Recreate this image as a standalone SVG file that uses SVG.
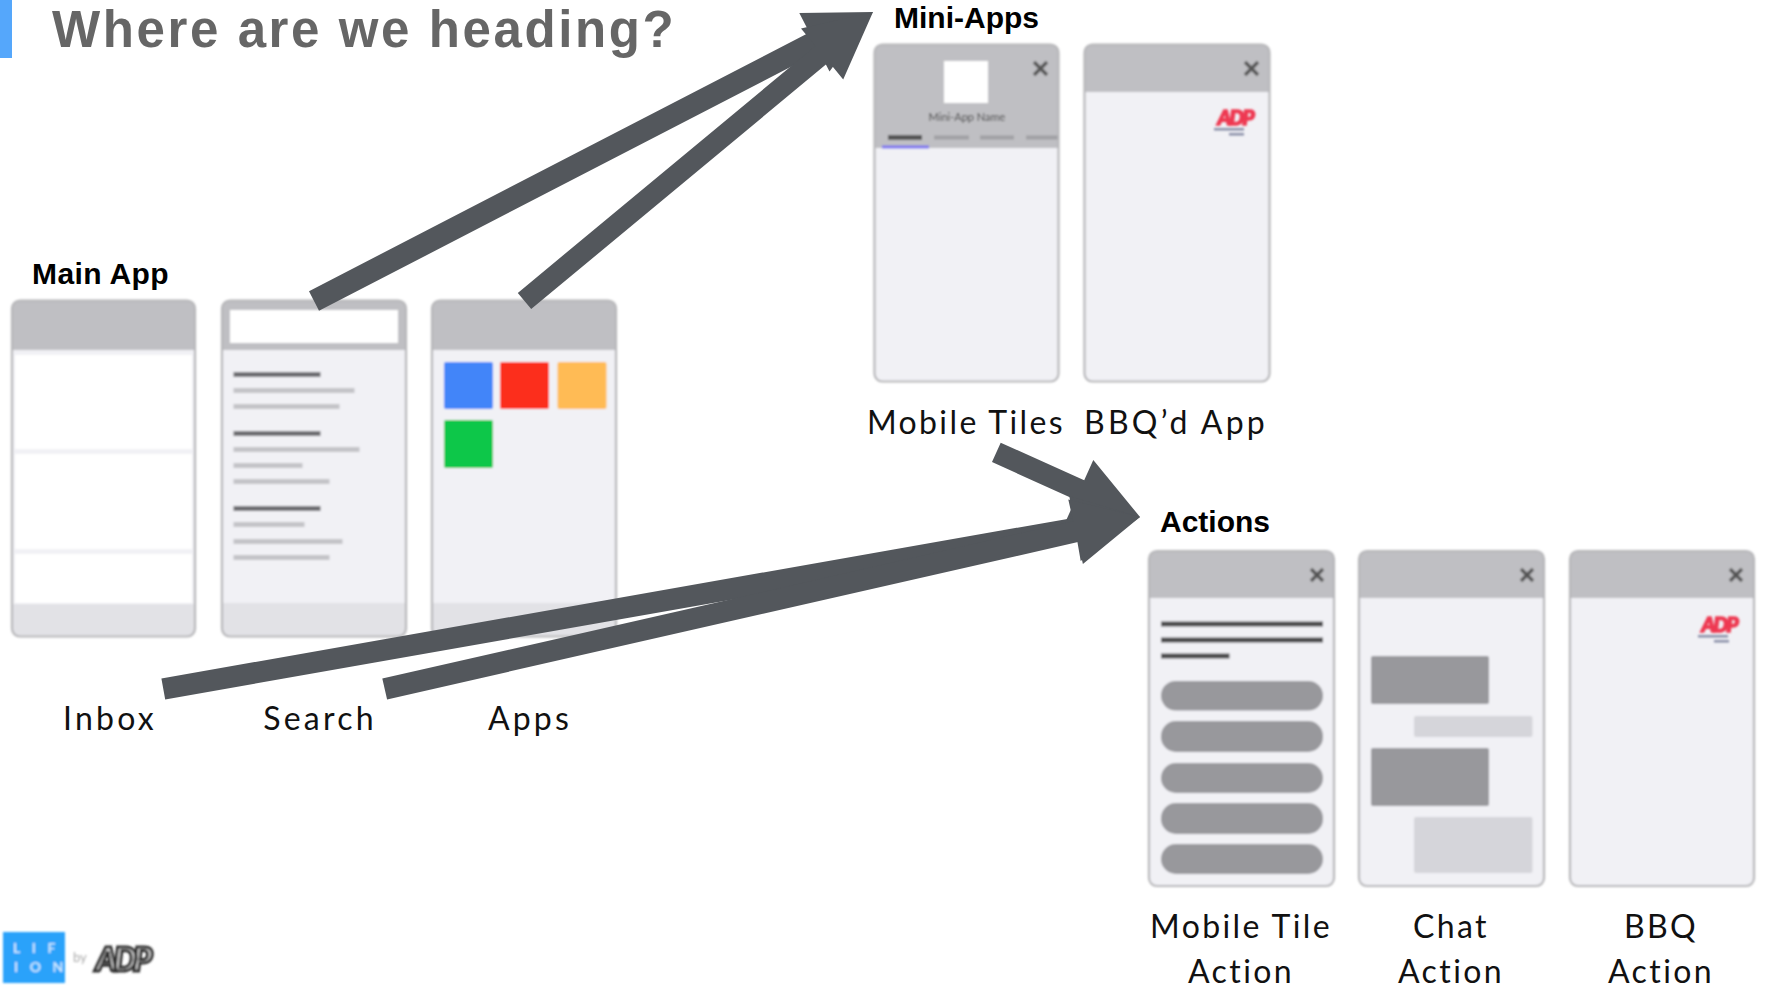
<svg xmlns="http://www.w3.org/2000/svg" width="1766" height="987" viewBox="0 0 1766 987">
<style>
text{font-family:"Lato","Liberation Sans",sans-serif}
.h{font-size:30px;font-weight:700;fill:#000;font-family:"Liberation Sans",Arial,sans-serif}
.l{font-size:32px;fill:#111;text-anchor:middle;letter-spacing:2.4px}
.w3{letter-spacing:3.2px}
.f{fill:#f1f1f5}
.o{fill:none;stroke:#b7b7ba;stroke-width:2.200}
.b{fill:#bfbfc3}
.ft{fill:#e2e2e6}
.w{fill:#fff}
.dk{fill:#6e6e72}
.lt{fill:#c4c4c8}
.pill{fill:#98989c}
.cl{fill:#d5d5da}
.x{stroke:#555;stroke-width:3.400;fill:none}
.a{fill:#53575c}
.adp{font-size:21px;font-weight:900;font-style:italic;fill:#ee3a52;stroke:#ee3a52;stroke-width:1.600;text-anchor:middle;letter-spacing:-2px}
.sub{fill:#8a8fa8}
</style>
<defs>
<filter id="s" x="-5%" y="-5%" width="110%" height="110%"><feGaussianBlur stdDeviation="0.9"/></filter>
<filter id="s2" x="-20%" y="-20%" width="140%" height="140%"><feGaussianBlur stdDeviation="1.200"/></filter>
<clipPath id="p1"><rect x="12" y="300.500" width="183" height="336" rx="8"/></clipPath>
<clipPath id="p2"><rect x="222" y="300.500" width="184" height="336" rx="8"/></clipPath>
<clipPath id="p3"><rect x="432" y="300.500" width="184" height="336" rx="8"/></clipPath>
<clipPath id="p4"><rect x="874.500" y="44.500" width="184" height="337" rx="8"/></clipPath>
<clipPath id="p5"><rect x="1084.500" y="44.500" width="185" height="337" rx="8"/></clipPath>
<clipPath id="p6"><rect x="1149" y="551" width="185" height="335" rx="8"/></clipPath>
<clipPath id="p7"><rect x="1359" y="551" width="185" height="335" rx="8"/></clipPath>
<clipPath id="p8"><rect x="1570" y="551" width="184" height="335" rx="8"/></clipPath>
</defs>

<g id="title">
<rect x="0" y="0" width="12" height="58" fill="#55a7fb"/>
<text x="52" y="47" font-size="51" font-weight="700" fill="#666" letter-spacing="2.600" style="font-family:'Liberation Sans',Arial,sans-serif">Where are we heading?</text>
</g>

<g id="label-main"><text class="h" x="32" y="284" style="letter-spacing:.4px">Main App</text></g>
<g id="label-mini"><text class="h" x="894" y="28">Mini-Apps</text></g>
<g id="label-actions"><text class="h" x="1160" y="532">Actions</text></g>

<g id="inbox" filter="url(#s)">
<g clip-path="url(#p1)">
<rect class="f" x="12" y="300" width="183" height="337"/>
<rect class="b" x="12" y="300" width="183" height="50"/>
<rect class="w" x="15" y="355" width="177" height="94"/>
<rect class="w" x="15" y="454" width="177" height="95"/>
<rect class="w" x="15" y="554" width="177" height="49"/>
<rect class="ft" x="12" y="604" width="183" height="33"/>
</g>
<rect class="o" x="12" y="300.500" width="183" height="336" rx="8"/>
</g>

<g id="search" filter="url(#s)">
<g clip-path="url(#p2)">
<rect class="f" x="222" y="300" width="184" height="337"/>
<rect class="b" x="222" y="300" width="184" height="50"/>
<rect class="w" x="230" y="310" width="168" height="33"/>
<rect class="dk" x="233.500" y="372" width="87" height="5"/>
<rect class="lt" x="233.500" y="388" width="121" height="5"/>
<rect class="lt" x="233.500" y="404" width="106" height="5"/>
<rect class="dk" x="233.500" y="431" width="87" height="5"/>
<rect class="lt" x="233.500" y="447" width="126" height="5"/>
<rect class="lt" x="233.500" y="463" width="69" height="5"/>
<rect class="lt" x="233.500" y="479" width="96" height="5"/>
<rect class="dk" x="233.500" y="506" width="87" height="5"/>
<rect class="lt" x="233.500" y="522" width="71" height="5"/>
<rect class="lt" x="233.500" y="539" width="109" height="5"/>
<rect class="lt" x="233.500" y="555" width="96" height="5"/>
<rect class="ft" x="222" y="603" width="184" height="34"/>
</g>
<rect class="o" x="222" y="300.500" width="184" height="336" rx="8"/>
</g>

<g id="apps" filter="url(#s)">
<g clip-path="url(#p3)">
<rect class="f" x="432" y="300" width="184" height="337"/>
<rect class="b" x="432" y="300" width="184" height="50"/>
<rect x="444" y="362" width="49" height="47" rx="2" fill="#4285f9"/>
<rect x="500" y="362" width="49" height="47" rx="2" fill="#fc2e1f"/>
<rect x="557.500" y="362" width="49" height="47" rx="2" fill="#ffbb54"/>
<rect x="444" y="420" width="49" height="48" rx="2" fill="#0ac74a"/>
<rect class="ft" x="432" y="603" width="184" height="34"/>
</g>
<rect class="o" x="432" y="300.500" width="184" height="336" rx="8"/>
</g>

<g id="mobile-tiles" filter="url(#s)">
<g clip-path="url(#p4)">
<rect class="f" x="874" y="44" width="185" height="338"/>
<rect class="b" x="874" y="44" width="185" height="104"/>
<rect class="w" x="944" y="61" width="44" height="42"/>
<text x="967" y="121" font-size="11" fill="#444" text-anchor="middle">Mini-App Name</text>
<rect x="888" y="135" width="34" height="5" fill="#555"/>
<rect x="934" y="135.500" width="35" height="4" fill="#a0a0a4"/>
<rect x="980" y="135.500" width="34" height="4" fill="#a0a0a4"/>
<rect x="1026" y="135.500" width="34" height="4" fill="#a0a0a4"/>
<rect x="882" y="145.500" width="47" height="3" fill="#7d74f0"/>
</g>
<rect class="o" x="874.500" y="44.500" width="184" height="337" rx="8"/>
<path class="x" d="M1034,62 L1047,75 M1047,62 L1034,75"/>
</g>

<g id="bbq-app" filter="url(#s)">
<g clip-path="url(#p5)">
<rect class="f" x="1084" y="44" width="186" height="338"/>
<rect class="b" x="1084" y="44" width="186" height="48"/>
</g>
<rect class="o" x="1084.500" y="44.500" width="185" height="337" rx="8"/>
<path class="x" d="M1245,62 L1258,75 M1258,62 L1245,75"/>
</g>
<g id="adp-app" filter="url(#s2)">
<text class="adp" x="1235" y="125">ADP</text>
<rect class="sub" x="1214" y="128" width="30" height="2.500"/>
<rect class="sub" x="1229" y="133" width="15" height="2.500"/>
</g>

<g id="mobile-tile-action" filter="url(#s)">
<g clip-path="url(#p6)">
<rect class="f" x="1148" y="551" width="186" height="336"/>
<rect class="b" x="1148" y="551" width="186" height="47"/>
<rect x="1161" y="621.500" width="162" height="5" fill="#48484c"/>
<rect x="1161" y="637.500" width="162" height="5" fill="#48484c"/>
<rect x="1161" y="653.500" width="68.500" height="5" fill="#48484c"/>
<rect class="pill" x="1161" y="681" width="162" height="29.500" rx="14.700"/>
<rect class="pill" x="1161" y="721" width="162" height="31" rx="15"/>
<rect class="pill" x="1161" y="763" width="162" height="30" rx="15"/>
<rect class="pill" x="1161" y="803" width="162" height="31" rx="15"/>
<rect class="pill" x="1161" y="844" width="162" height="30" rx="15"/>
</g>
<rect class="o" x="1149" y="551" width="185" height="335" rx="8"/>
<path class="x" d="M1311,569 L1323,581 M1323,569 L1311,581"/>
</g>

<g id="chat-action" filter="url(#s)">
<g clip-path="url(#p7)">
<rect class="f" x="1358" y="551" width="186" height="336"/>
<rect class="b" x="1358" y="551" width="186" height="47"/>
<rect class="pill" x="1371" y="656" width="118" height="48" rx="2"/>
<rect class="cl" x="1414" y="716" width="118.500" height="21" rx="2"/>
<rect class="pill" x="1371" y="748" width="118" height="58" rx="2"/>
<rect class="cl" x="1414" y="817" width="118.500" height="56" rx="2"/>
</g>
<rect class="o" x="1359" y="551" width="185" height="335" rx="8"/>
<path class="x" d="M1521,569 L1533,581 M1533,569 L1521,581"/>
</g>

<g id="bbq-action" filter="url(#s)">
<g clip-path="url(#p8)">
<rect class="f" x="1569" y="551" width="185" height="336"/>
<rect class="b" x="1569" y="551" width="185" height="47"/>
</g>
<rect class="o" x="1570" y="551" width="184" height="335" rx="8"/>
<path class="x" d="M1730,569 L1742,581 M1742,569 L1730,581"/>
</g>
<g id="adp-action" filter="url(#s2)">
<text class="adp" x="1719" y="632">ADP</text>
<rect class="sub" x="1698" y="635" width="30" height="2.500"/>
<rect class="sub" x="1714" y="640" width="15" height="2.500"/>
</g>

<g id="labels">
<text class="l w3" x="110" y="730">Inbox</text>
<text class="l w3" x="320" y="730">Search</text>
<text class="l w3" x="530" y="730">Apps</text>
<text class="l" x="966" y="434">Mobile Tiles</text>
<text class="l w3" x="1176" y="434">BBQ’d App</text>
<text class="l" x="1241" y="938">Mobile Tile</text>
<text class="l" x="1241" y="983">Action</text>
<text class="l" x="1451" y="938">Chat</text>
<text class="l" x="1451" y="983">Action</text>
<text class="l" x="1661" y="938">BBQ</text>
<text class="l" x="1661" y="983">Action</text>
</g>

<g id="connectors">
<polygon class="a" points="309,291.200 809.350,32.500 799.300,13 873,12 829.500,71.600 819.450,52.100 319,310.800"/>
<polygon class="a" points="517.800,292.900 815.500,45.900 801,28.600 873,12 843.200,79.400 828.900,62.100 531.200,309.100"/>
<polygon class="a" points="1000.700,442.700 1084.200,480.200 1093.300,460 1140,517 1066.300,520 1075.400,499.800 992,462"/>
<polygon class="a" points="161.400,678.500 1073.100,517.900 1069.300,495.900 1140,517 1080.700,560.900 1076.900,538.900 165.200,699.500"/>
<polygon class="a" points="382.300,678.600 1073.200,521.300 1068.300,499.500 1140,517 1082.900,563.900 1078,542.100 387.100,699.400"/>
</g>

<g id="logo" filter="url(#s)">
<rect x="3" y="932" width="62" height="51" fill="#2ba2fa"/>
<text x="13" y="953" font-size="14" font-weight="700" fill="#cfe9ff" letter-spacing="11.500">LIF</text>
<text x="14" y="972" font-size="14" font-weight="700" fill="#cfe9ff" letter-spacing="11.500">ION</text>
<text x="73" y="962" font-size="13" fill="#aaa">by</text>
<text x="122" y="971" font-size="33" font-weight="900" font-style="italic" fill="#ddd" stroke="#333" stroke-width="3" text-anchor="middle" letter-spacing="-4">ADP</text>
</g>
</svg>
